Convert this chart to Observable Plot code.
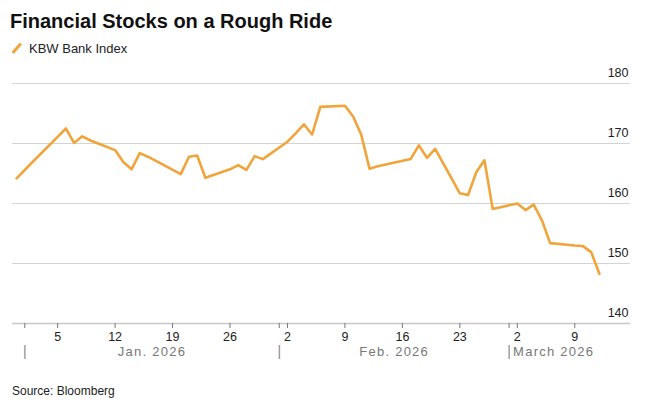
<!DOCTYPE html>
<html><head><meta charset="utf-8">
<script src="https://cdn.jsdelivr.net/npm/d3@7"></script>
<script src="https://cdn.jsdelivr.net/npm/@observablehq/plot@0.6"></script>
<style>
html,body{margin:0;padding:0;background:#fff}
body{width:648px;height:408px;position:relative;overflow:hidden;font-family:"Liberation Sans",Arial,sans-serif;color:#111}
#title{position:absolute;left:10px;top:11px;font-size:20px;line-height:20px;font-weight:bold;color:#111;white-space:nowrap}
#legend{position:absolute;left:11px;top:41px;height:14px;display:flex;align-items:center}
#legend span{font-size:13px;line-height:13px;color:#222;margin-left:6px}
#chart{position:absolute;left:0;top:60px}
#source{position:absolute;left:12px;top:385px;font-size:12px;line-height:12px;color:#222}
.monthlab text{letter-spacing:1.25px}
</style>
</head><body>
<div id="title">Financial Stocks on a Rough Ride</div>
<div id="legend"><svg width="12" height="12"><line x1="2.5" y1="10" x2="9" y2="2.5" stroke="#F0A43A" stroke-width="3" stroke-linecap="round"/></svg><span>KBW Bank Index</span></div>
<div id="chart"></div>
<div id="source">Source: Bloomberg</div>
<script>
const dates = [
  "2025-12-31","2026-01-02","2026-01-05","2026-01-06","2026-01-07","2026-01-08","2026-01-09",
  "2026-01-12","2026-01-13","2026-01-14","2026-01-15","2026-01-16",
  "2026-01-20","2026-01-21","2026-01-22","2026-01-23",
  "2026-01-26","2026-01-27","2026-01-28","2026-01-29","2026-01-30",
  "2026-02-02","2026-02-03","2026-02-04","2026-02-05","2026-02-06",
  "2026-02-09","2026-02-10","2026-02-11","2026-02-12","2026-02-13",
  "2026-02-17","2026-02-18","2026-02-19","2026-02-20",
  "2026-02-23","2026-02-24","2026-02-25","2026-02-26","2026-02-27",
  "2026-03-02","2026-03-03","2026-03-04","2026-03-05","2026-03-06",
  "2026-03-09","2026-03-10","2026-03-11","2026-03-12"
];
const values = [
  164.2,167.0,171.1,172.5,170.1,171.2,170.5,
  168.9,166.9,165.7,168.4,167.8,
  164.9,167.8,168.0,164.3,
  165.7,166.4,165.6,167.9,167.4,
  170.3,171.7,173.2,171.5,176.1,
  176.3,174.5,171.4,165.8,166.2,
  167.4,169.7,167.6,169.1,
  161.7,161.4,165.2,167.2,159.1,
  160.0,158.9,159.8,157.2,153.4,
  153.0,152.9,151.9,148.3
];
const yTicks = [140,150,160,170,180];
const weekTicks = ["2026-01-05","2026-01-12","2026-01-19","2026-01-26","2026-02-02","2026-02-09","2026-02-16","2026-02-23","2026-03-02","2026-03-09"];
const weekLabels = ["5","12","19","26","2","9","16","23","2","9"];
const monthStarts = ["2026-01-01","2026-02-01","2026-03-01","2026-04-01"];
const monthLabels = ["Jan. 2026","Feb. 2026","March 2026"];

const toDate = s => new Date(s + "T00:00:00Z");
const data = dates.map((d,i)=>({date: toDate(d), value: values[i]}));
const weekDates = weekTicks.map(toDate);
const weekMap = new Map(weekDates.map((d,i)=>[+d, weekLabels[i]]));
const monthDates = monthStarts.map(toDate);
const monthTickDates = monthDates.slice(0,3);
const monthInfo = monthLabels.map((t,i)=>({label:t, start:monthDates[i], mid:new Date((+monthDates[i] + +monthDates[i+1])/2)}));

const xDomain = [new Date(Date.UTC(2025,11,30,12)), new Date(Date.UTC(2026,2,15,19))];

const chart = Plot.plot({
  width: 648, height: 310,
  marginTop: 23, marginBottom: 47, marginLeft: 12, marginRight: 18,
  x: {type: "utc", domain: xDomain},
  y: {domain: [140,180], axis: null},
  style: {fontFamily: "'Liberation Sans', Arial, sans-serif", fontSize: "12px", color: "#222", background: "transparent", overflow: "visible"},
  marks: [
    Plot.ruleY(yTicks.filter(v=>v>140), {y: d=>d, stroke: "#d4d4d4", strokeWidth: 1}),
    Plot.ruleY([140], {y: d=>d, stroke: "#c8c8c8", strokeWidth: 1.5}),
    Plot.text(yTicks, {y: d=>d, text: d=>String(d), frameAnchor: "right", textAnchor: "end", dx: -2, dy: -11, fill: "#222", fontSize: 12.5}),
    Plot.axisX(weekDates, {tickSize: 5, tickPadding: 4, tickFormat: d=>weekMap.get(+d), stroke: "#777", fill: "#222", fontSize: 12.5}),
    Plot.axisX(monthTickDates, {tickSize: 5, tickFormat: ()=>"", stroke: "#777"}),
    Plot.text(monthTickDates, {x: d=>d, text: ()=>"|", frameAnchor: "bottom", dy: 32, fill: "#888", fontSize: 14}),
    Plot.text(monthInfo.slice(0,2), {x: "mid", text: "label", frameAnchor: "bottom", dy: 32, fill: "#777", fontSize: 13, className: "monthlab"}),
    Plot.text(monthInfo.slice(2), {x: "start", text: "label", frameAnchor: "bottom", dy: 32, dx: 4, textAnchor: "start", fill: "#777", fontSize: 13, className: "monthlab"}),
    Plot.line(data, {x: "date", y: "value", stroke: "#F0A43A", strokeWidth: 2.6, strokeLinejoin: "round", strokeLinecap: "round"})
  ]
});
document.getElementById("chart").appendChild(chart);
</script>
</body></html>
